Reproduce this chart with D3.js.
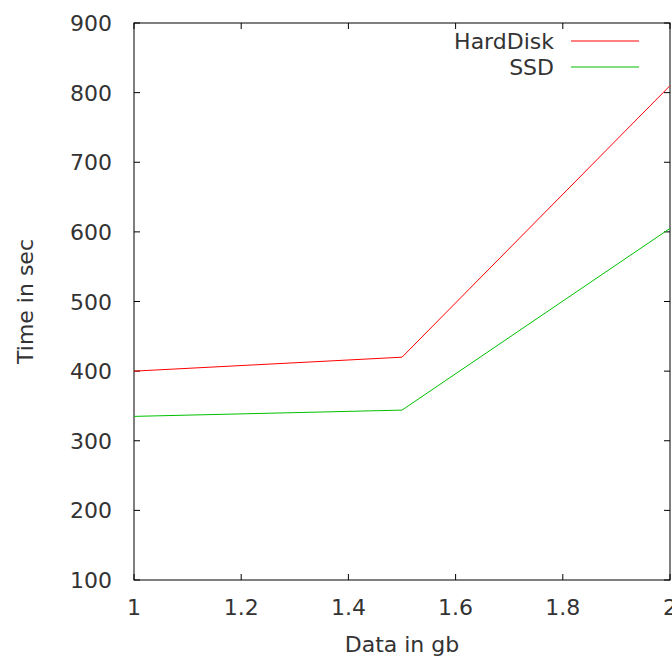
<!DOCTYPE html>
<html>
<head>
<meta charset="utf-8">
<script src="https://cdn.jsdelivr.net/npm/d3@7"></script>
<style>
  body { margin: 0; background: #fff; }
  text { font-family: "DejaVu Sans", sans-serif; fill: #333; }
</style>
</head>
<body>
<script>
// data
var sizes = [1, 1.5, 2]
var hardDisk = [400, 420, 810]
var ssd = [335, 344, 605]
var xTicks = [1, 1.2, 1.4, 1.6, 1.8, 2]
var yTicks = [100, 200, 300, 400, 500, 600, 700, 800, 900]

var margin = {top: 23, right: 2, bottom: 80, left: 134},
    width = 672 - margin.left - margin.right,
    height = 660 - margin.top - margin.bottom;

var svg = d3.select("body")
    .append("svg")
    .attr("width", 672)
    .attr("height", 660)
    .append("g")
    .attr("transform", "translate(" + margin.left + "," + margin.top + ")");

var x = d3.scaleLinear().domain([1, 2]).range([0, width])
var y = d3.scaleLinear().domain([100, 900]).range([height, 0])

// ticks, inward on all four sides
var tl = 6
svg.append("g").selectAll("line")
    .data(xTicks).enter().append("line")
    .attr("x1", d => x(d)).attr("x2", d => x(d))
    .attr("y1", height).attr("y2", height - tl)
    .attr("stroke", "#000")
svg.append("g").selectAll("line")
    .data(xTicks).enter().append("line")
    .attr("x1", d => x(d)).attr("x2", d => x(d))
    .attr("y1", 0).attr("y2", tl)
    .attr("stroke", "#000")
svg.append("g").selectAll("line")
    .data(yTicks).enter().append("line")
    .attr("x1", 0).attr("x2", tl)
    .attr("y1", d => y(d)).attr("y2", d => y(d))
    .attr("stroke", "#000")
svg.append("g").selectAll("line")
    .data(yTicks).enter().append("line")
    .attr("x1", width).attr("x2", width - tl)
    .attr("y1", d => y(d)).attr("y2", d => y(d))
    .attr("stroke", "#000")

// tick labels
svg.append("g").selectAll("text")
    .data(xTicks).enter().append("text")
    .attr("x", d => x(d))
    .attr("y", height + 35)
    .attr("text-anchor", "middle")
    .style("font-size", "22px")
    .text(d => d3.format("~g")(d))
svg.append("g").selectAll("text")
    .data(yTicks).enter().append("text")
    .attr("x", -22)
    .attr("y", d => y(d) + 8)
    .attr("text-anchor", "end")
    .style("font-size", "22px")
    .text(d => d)

// border
svg.append("rect")
    .attr("width", width).attr("height", height)
    .attr("fill", "none")
    .attr("stroke", "#000")

// lines
var line = d3.line()
    .x((d, i) => x(sizes[i]))
    .y(d => y(d))

svg.append("path").datum(hardDisk)
    .attr("d", line).attr("fill", "none")
    .attr("stroke", "#ff0000").attr("stroke-width", 1)
svg.append("path").datum(ssd)
    .attr("d", line).attr("fill", "none")
    .attr("stroke", "#00c000").attr("stroke-width", 1)

// legend
var legend = [{name: "HardDisk", color: "#ff0000"}, {name: "SSD", color: "#00c000"}]
var lg = svg.append("g").selectAll("g")
    .data(legend).enter().append("g")
    .attr("transform", (d, i) => "translate(0," + (18 + i * 26) + ")")
lg.append("text")
    .attr("x", 420)
    .attr("y", 8)
    .attr("text-anchor", "end")
    .style("font-size", "22px")
    .text(d => d.name)
lg.append("line")
    .attr("x1", 437).attr("x2", 505)
    .attr("y1", 0).attr("y2", 0)
    .attr("stroke", d => d.color)

// axis titles
svg.append("text")
    .attr("x", width / 2)
    .attr("y", height + 72)
    .attr("text-anchor", "middle")
    .style("font-size", "22px")
    .text("Data in gb")
svg.append("text")
    .attr("transform", "translate(" + (-101) + "," + (height / 2) + ") rotate(-90)")
    .attr("text-anchor", "middle")
    .style("font-size", "22px")
    .text("Time in sec")
</script>
</body>
</html>
